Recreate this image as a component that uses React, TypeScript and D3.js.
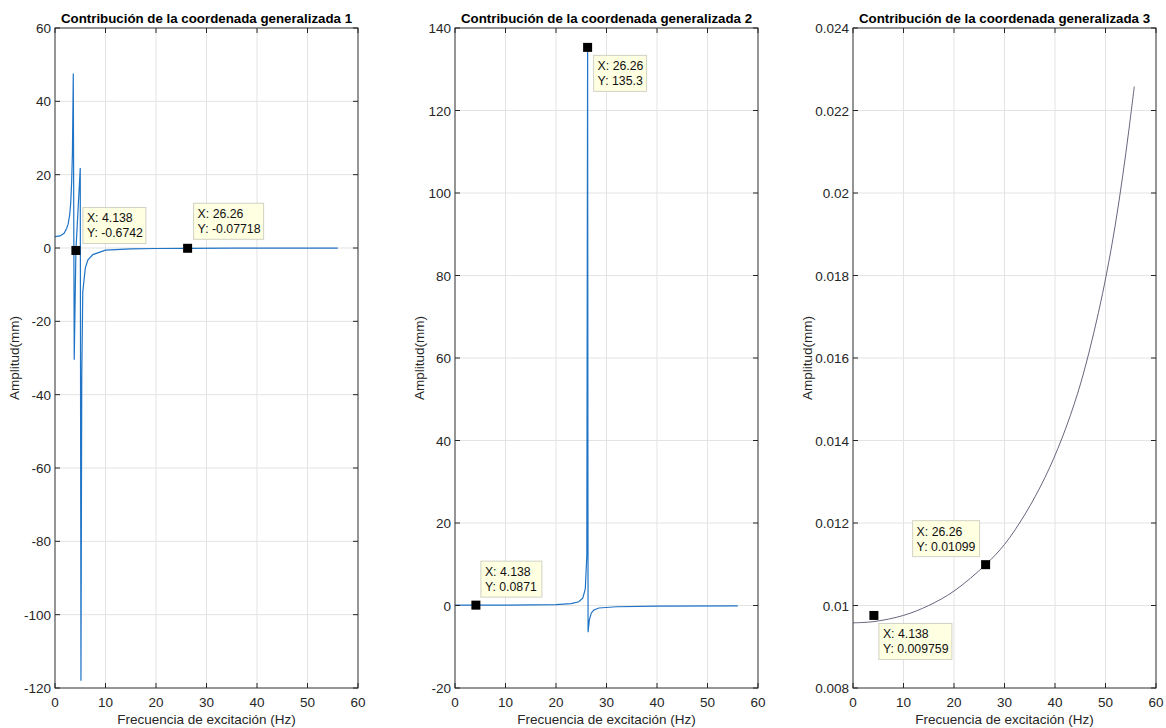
import React from 'react'
import * as d3 from 'd3'

// curvas: frecuencia (Hz) -> amplitud (mm)
const freq1 = [0, 1, 1.8, 2.3, 2.6, 2.9, 3.1, 3.3, 3.45, 3.62, 3.81, 4.138, 5.0, 5.14, 5.3, 5.5, 6.0, 6.5, 7.5, 10, 15, 20, 26.26, 35, 45, 56]
const amp1 = [3.1, 3.3, 4.0, 5.3, 6.5, 9, 12, 18, 26, 47.6, -30.5, -0.6742, 21.8, -118, -35, -12, -5.5, -3.3, -1.8, -0.6, -0.25, -0.14, -0.07718, -0.04, -0.025, -0.015]

const freq2 = [0, 4.138, 10, 15, 20, 23, 24.5, 25.3, 25.8, 26.1, 26.26, 26.35, 26.6, 27, 27.5, 28.5, 32, 40, 56]
const amp2 = [0.08, 0.0871, 0.1, 0.13, 0.22, 0.45, 0.9, 1.8, 4, 12, 135.3, -6.5, -3.5, -1.8, -1.1, -0.6, -0.3, -0.15, -0.08]

const freq3 = [0, 4.138, 10, 15, 20, 26.26, 30, 34.1, 38, 41.4, 44.5, 46.7, 48.6, 50.2, 51.9, 53.4, 54.6, 55.7]
const amp3 = [0.00958, 0.00961, 0.00976, 0.01, 0.01035, 0.01099, 0.01148, 0.01222, 0.0131, 0.01406, 0.01515, 0.01612, 0.0171, 0.01804, 0.0192, 0.02041, 0.0215, 0.02258]

// ejes
const xTicks = [0, 10, 20, 30, 40, 50, 60]
const xTickLabels = ['0', '10', '20', '30', '40', '50', '60']
const yTicks1 = [60, 40, 20, 0, -20, -40, -60, -80, -100, -120]
const yTickLabels1 = ['60', '40', '20', '0', '-20', '-40', '-60', '-80', '-100', '-120']
const yTicks2 = [140, 120, 100, 80, 60, 40, 20, 0, -20]
const yTickLabels2 = ['140', '120', '100', '80', '60', '40', '20', '0', '-20']
const yTicks3 = [0.024, 0.022, 0.02, 0.018, 0.016, 0.014, 0.012, 0.01, 0.008]
const yTickLabels3 = ['0.024', '0.022', '0.02', '0.018', '0.016', '0.014', '0.012', '0.01', '0.008']

// data tips
const tipX1 = [4.138, 26.26]
const tipY1 = [-0.6742, -0.07718]
const tipText1 = [['X: 4.138', 'Y: -0.6742'], ['X: 26.26', 'Y: -0.07718']]
const tipX2 = [4.138, 26.26]
const tipY2 = [0.0871, 135.3]
const tipText2 = [['X: 4.138', 'Y: 0.0871'], ['X: 26.26', 'Y: 135.3']]
const tipX3 = [4.138, 26.26]
const tipY3 = [0.009759, 0.01099]
const tipText3 = [['X: 4.138', 'Y: 0.009759'], ['X: 26.26', 'Y: 0.01099']]

// posicion de las cajas de los data tips respecto al marcador (px)
const tipBox1 = [{ dx: 7, dy: -43, w: 63 }, { dx: 6, dy: -45, w: 70 }]
const tipBox2 = [{ dx: 5, dy: -44, w: 61 }, { dx: 6, dy: 8, w: 53 }]
const tipBox3 = [{ dx: 5, dy: 8, w: 73 }, { dx: -73, dy: -44, w: 67 }]

const FONT = '"Liberation Sans", Arial, Helvetica, sans-serif'
const TOP = 28
const BOTTOM = 688
const PW = 303
const FS = 13.5

const Panel = ({ left, title, freq, amp, yDomain, yTicks, yTickLabels, color, lw, smooth, labelOff, tipX, tipY, tipText, tipBox, id }) => {
  const x = d3.scaleLinear().domain([0, 60]).range([left, left + PW])
  const y = d3.scaleLinear().domain(yDomain).range([BOTTOM, TOP])
  const path = d3.line<number>()
    .x((d, i) => x(freq[i]))
    .y(d => y(d))
    .curve(smooth ? d3.curveCatmullRom.alpha(0.5) : d3.curveLinear)(amp)
  const right = left + PW
  const cx = left + PW / 2

  return (
    <g>
      <rect x={left} y={TOP} width={PW} height={BOTTOM - TOP} fill="#fff" />
      {/* grid */}
      {xTicks.map(t => (
        <line key={'gx' + t} x1={x(t)} x2={x(t)} y1={TOP} y2={BOTTOM} stroke="#e3e3e3" />
      ))}
      {yTicks.map(t => (
        <line key={'gy' + t} x1={left} x2={right} y1={y(t)} y2={y(t)} stroke="#e3e3e3" />
      ))}
      <clipPath id={id}>
        <rect x={left} y={TOP} width={PW} height={BOTTOM - TOP} />
      </clipPath>
      <path d={path} fill="none" stroke={color} strokeWidth={lw} clipPath={`url(#${id})`} />
      {/* caja */}
      <rect x={left} y={TOP} width={PW} height={BOTTOM - TOP} fill="none" stroke="#3a3a3a" strokeWidth={1} />
      {xTicks.map(t => (
        <g key={'tx' + t}>
          <line x1={x(t)} x2={x(t)} y1={BOTTOM} y2={BOTTOM - 5} stroke="#262626" />
          <line x1={x(t)} x2={x(t)} y1={TOP} y2={TOP + 5} stroke="#262626" />
        </g>
      ))}
      {yTicks.map(t => (
        <g key={'ty' + t}>
          <line x1={left} x2={left + 5} y1={y(t)} y2={y(t)} stroke="#262626" />
          <line x1={right} x2={right - 5} y1={y(t)} y2={y(t)} stroke="#262626" />
        </g>
      ))}
      {xTicks.map((t, i) => (
        <text key={'lx' + t} x={x(t)} y={707} textAnchor="middle" fontSize={FS} fill="#262626">{xTickLabels[i]}</text>
      ))}
      {yTicks.map((t, i) => (
        <text key={'ly' + t} x={left - 4} y={y(t) + 5} textAnchor="end" fontSize={FS} fill="#262626">{yTickLabels[i]}</text>
      ))}
      <text x={cx} y={23} textAnchor="middle" fontSize={13.3} fontWeight="bold" fill="#000">{title}</text>
      <text x={cx} y={724} textAnchor="middle" fontSize={FS} fill="#262626">Frecuencia de excitación (Hz)</text>
      <text transform={`translate(${left - labelOff},${(TOP + BOTTOM) / 2}) rotate(-90)`} textAnchor="middle" fontSize={FS} fill="#262626">Amplitud(mm)</text>
      {/* data tips */}
      {tipX.map((tx, i) => {
        const mx = x(tx)
        const my = y(tipY[i])
        const b = tipBox[i]
        return (
          <g key={'tip' + i}>
            <rect x={mx + b.dx} y={my + b.dy} width={b.w} height={36} fill="#ffffe1" stroke="#d2d2c4" />
            <text x={mx + b.dx + 4} y={my + b.dy + 15} fontSize={12.3} fill="#111">{tipText[i][0]}</text>
            <text x={mx + b.dx + 4} y={my + b.dy + 30} fontSize={12.3} fill="#111">{tipText[i][1]}</text>
            <rect x={mx - 4.5} y={my - 4.5} width={9} height={9} fill="#000" />
          </g>
        )
      })}
    </g>
  )
}

export default function App() {
  return (
    <svg width={1166} height={728} style={{ position: 'absolute', left: 0, top: 0, background: '#fff' }} fontFamily={FONT}>
      <rect width={1166} height={728} fill="#fff" />
      <Panel id="c1" left={55} title="Contribución de la coordenada generalizada 1" freq={freq1} amp={amp1}
        yDomain={[-120, 60]} yTicks={yTicks1} yTickLabels={yTickLabels1} color="#1f74c6" lw={1.2} smooth={false} labelOff={36}
        tipX={tipX1} tipY={tipY1} tipText={tipText1} tipBox={tipBox1} />
      <Panel id="c2" left={455} title="Contribución de la coordenada generalizada 2" freq={freq2} amp={amp2}
        yDomain={[-20, 140]} yTicks={yTicks2} yTickLabels={yTickLabels2} color="#1f74c6" lw={1.2} smooth={false} labelOff={31}
        tipX={tipX2} tipY={tipY2} tipText={tipText2} tipBox={tipBox2} />
      <Panel id="c3" left={853} title="Contribución de la coordenada generalizada 3" freq={freq3} amp={amp3}
        yDomain={[0.008, 0.024]} yTicks={yTicks3} yTickLabels={yTickLabels3} color="#55556e" lw={0.9} smooth={true} labelOff={41}
        tipX={tipX3} tipY={tipY3} tipText={tipText3} tipBox={tipBox3} />
    </svg>
  )
}
